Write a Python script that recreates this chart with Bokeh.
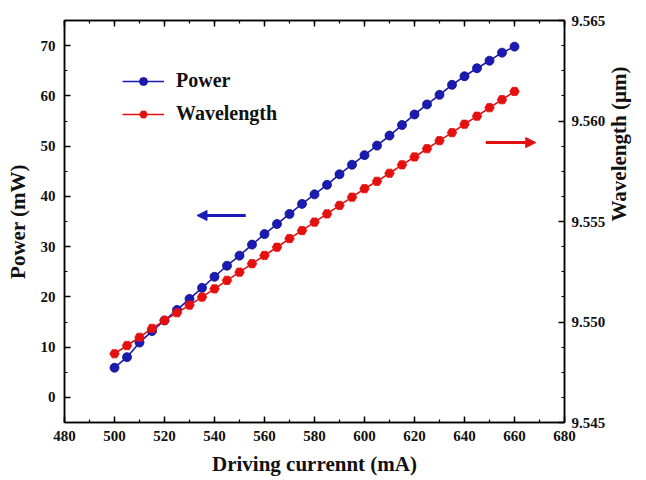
import math
from bokeh.plotting import figure
from bokeh.models import (Range1d, LinearAxis, Legend, LegendItem, Arrow, NormalHead,
                          SingleIntervalTicker, NumeralTickFormatter, CustomJSTickFormatter)
from bokeh.embed import file_html
from bokeh.resources import INLINE

# ---- data ----
current_mA = [500, 505, 510, 515, 520, 525, 530, 535, 540, 545, 550, 555, 560, 565, 570,
              575, 580, 585, 590, 595, 600, 605, 610, 615, 620, 625, 630, 635, 640, 645,
              650, 655, 660]
power_mW = [5.9, 8.0, 10.9, 13.2, 15.3, 17.4, 19.6, 21.8, 24.0, 26.2, 28.2, 30.4, 32.5,
            34.5, 36.5, 38.5, 40.4, 42.3, 44.4, 46.3, 48.2, 50.1, 52.1, 54.2, 56.3, 58.3,
            60.2, 62.2, 63.9, 65.5, 67.0, 68.6, 69.8]
wavelength_um = [9.54842, 9.54883, 9.54924, 9.54968, 9.55008, 9.55046, 9.55084, 9.55124,
                 9.55165, 9.55207, 9.55248, 9.55290, 9.55331, 9.55372, 9.55415, 9.55455,
                 9.55497, 9.55538, 9.55580, 9.55621, 9.55663, 9.55700, 9.55740, 9.55782,
                 9.55821, 9.55862, 9.55902, 9.55942, 9.55984, 9.56024, 9.56066, 9.56106,
                 9.56147]
series_names = ["Power", "Wavelength"]

FONT = "Liberation Serif"
BLUE = "#1a1ab4"
RED = "#e41010"

p = figure(width=646, height=480, output_backend="svg", toolbar_location=None,
           x_range=Range1d(480, 680), y_range=Range1d(-5, 75),
           min_border_left=64, min_border_right=82, min_border_top=20, min_border_bottom=58)
p.extra_y_ranges = {"wl": Range1d(9.545, 9.565)}
p.xgrid.visible = False
p.ygrid.visible = False
p.outline_line_color = "black"
p.outline_line_width = 1.5
p.background_fill_color = "white"
p.border_fill_color = "white"

def style_axis(ax):
    ax.axis_line_width = 1.5
    ax.axis_line_color = "black"
    ax.major_tick_in = 6
    ax.major_tick_out = 0
    ax.minor_tick_in = 3
    ax.minor_tick_out = 0
    ax.major_tick_line_width = 1.5
    ax.minor_tick_line_width = 1.2
    ax.major_label_text_font = FONT
    ax.major_label_text_font_style = "bold"
    ax.major_label_text_font_size = "15px"
    ax.major_label_text_color = "#111111"
    ax.axis_label_text_font = FONT
    ax.axis_label_text_font_style = "bold"
    ax.axis_label_text_font_size = "21px"
    ax.axis_label_text_color = "#111111"

# bottom axis
xa = p.xaxis[0]
xa.ticker = SingleIntervalTicker(interval=20, num_minor_ticks=2)
xa.axis_label = "Driving currennt (mA)"
style_axis(xa)
xa.major_label_standoff = 8
xa.axis_label_standoff = 8

# left axis
ya = p.yaxis[0]
ya.ticker = SingleIntervalTicker(interval=10, num_minor_ticks=2)
ya.axis_label = "Power (mW)"
style_axis(ya)
ya.major_label_standoff = 9
ya.axis_label_standoff = 8

# right axis
ra = LinearAxis(y_range_name="wl", axis_label="Wavelength (\u00b5m)",
                ticker=SingleIntervalTicker(interval=0.005, num_minor_ticks=4),
                formatter=NumeralTickFormatter(format="0.000"))
style_axis(ra)
ra.major_label_standoff = 7
ra.axis_label_standoff = 11
ra.axis_label_text_baseline = "top"
if "axis_label_orientation" in ra.properties():
    ra.axis_label_orientation = math.pi / 2
p.add_layout(ra, "right")

# top axis (ticks only)
ta = LinearAxis(ticker=SingleIntervalTicker(interval=20, num_minor_ticks=2),
                formatter=CustomJSTickFormatter(code="return '';"))
style_axis(ta)
ta.major_label_standoff = 0
p.add_layout(ta, "above")

# series
pl = p.line(current_mA, power_mW, line_color=BLUE, line_width=1.6)
ps = p.scatter(current_mA, power_mW, size=9, marker="circle", fill_color=BLUE,
               line_color="#10107a", line_width=0.8)
wl = p.line(current_mA, wavelength_um, y_range_name="wl", line_color=RED, line_width=1.6)
ws = p.scatter(current_mA, wavelength_um, y_range_name="wl", size=9.5, marker="hex",
               fill_color=RED, line_color=RED, line_width=0.8)

# arrows
p.add_layout(Arrow(x_start=552.5, y_start=36.2, x_end=533, y_end=36.2,
                   line_color=BLUE, line_width=3,
                   end=NormalHead(size=10, fill_color=BLUE, line_color=BLUE)))
p.add_layout(Arrow(x_start=648.5, y_start=50.7, x_end=668.5, y_end=50.7,
                   line_color=RED, line_width=3,
                   end=NormalHead(size=10, fill_color=RED, line_color=RED)))

legend = Legend(items=[LegendItem(label=series_names[0], renderers=[pl, ps]),
                       LegendItem(label=series_names[1], renderers=[wl, ws])],
                location=(58, 297), margin=0, padding=0, spacing=10,
                glyph_width=42, glyph_height=20, label_height=20, label_standoff=12,
                border_line_color=None, background_fill_alpha=0,
                label_text_font=FONT, label_text_font_style="bold",
                label_text_font_size="20px", label_text_color="#111111")
p.add_layout(legend, "center")

open("out.html", "w").write(file_html(p, INLINE))
